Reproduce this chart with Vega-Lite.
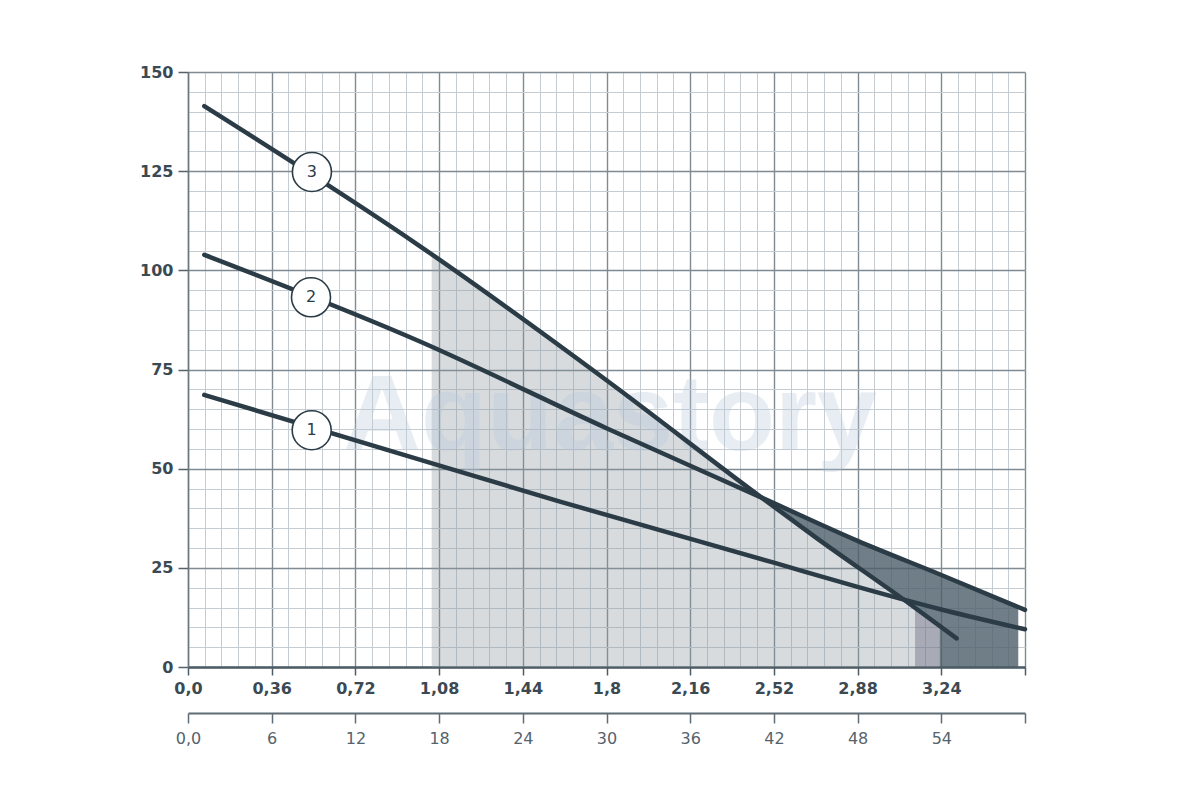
{
  "$schema": "https://vega.github.io/schema/vega-lite/v6.json",
  "width": 837,
  "height": 595,
  "autosize": {"type": "none"},
  "padding": {"left": 188, "top": 72, "right": 175, "bottom": 133},
  "background": "white",
  "config": {"view": {"stroke": null}, "font": "DejaVu Sans"},
  "datasets": {
    "frame": [{"q": 0, "h": 0}, {"q": 3.6, "h": 150}],
    "lpm": [{"lpm": 0}, {"lpm": 60}],
    "lines": [
      {"pump": "3", "q": 0.07, "h": 141.4},
      {"pump": "3", "q": 1.0, "h": 106.0},
      {"pump": "3", "q": 1.8, "h": 72.3},
      {"pump": "3", "q": 2.46, "h": 43.0},
      {"pump": "3", "q": 2.704, "h": 32.5},
      {"pump": "3", "q": 3.09, "h": 16.5},
      {"pump": "3", "q": 3.306, "h": 7.2},
      {"pump": "2", "q": 0.07, "h": 103.9},
      {"pump": "2", "q": 1.0, "h": 82.0},
      {"pump": "2", "q": 1.8, "h": 60.2},
      {"pump": "2", "q": 2.46, "h": 42.9},
      {"pump": "2", "q": 2.88, "h": 31.8},
      {"pump": "2", "q": 3.24, "h": 23.2},
      {"pump": "2", "q": 3.6, "h": 14.4},
      {"pump": "1", "q": 0.07, "h": 68.6},
      {"pump": "1", "q": 1.0, "h": 52.2},
      {"pump": "1", "q": 1.6, "h": 41.7},
      {"pump": "1", "q": 2.52, "h": 26.3},
      {"pump": "1", "q": 2.88, "h": 20.2},
      {"pump": "1", "q": 3.24, "h": 14.5},
      {"pump": "1", "q": 3.6, "h": 9.5}
    ],
    "lightArea": [
      {"q": 1.048, "h": 104.0, "h2": 0},
      {"q": 1.8, "h": 72.3, "h2": 0},
      {"q": 2.46, "h": 43.0, "h2": 0},
      {"q": 2.704, "h": 32.5, "h2": 0},
      {"q": 3.09, "h": 16.5, "h2": 0},
      {"q": 3.127, "h": 14.9, "h2": 0}
    ],
    "mediumArea": [
      {"q": 3.127, "h": 14.9, "h2": 0},
      {"q": 3.232, "h": 10.4, "h2": 0}
    ],
    "darkArea": [
      {"q": 2.46, "h": 42.9, "h2": 42.9},
      {"q": 2.704, "h": 36.5, "h2": 32.5},
      {"q": 2.88, "h": 31.8, "h2": 25.2},
      {"q": 3.09, "h": 26.8, "h2": 16.5},
      {"q": 3.127, "h": 25.9, "h2": 14.9},
      {"q": 3.232, "h": 23.4, "h2": 10.4},
      {"q": 3.2321, "h": 23.4, "h2": 0},
      {"q": 3.571, "h": 15.2, "h2": 0}
    ],
    "badges": [
      {"label": "3", "q": 0.533, "h": 124.8},
      {"label": "2", "q": 0.529, "h": 93.2},
      {"label": "1", "q": 0.532, "h": 59.7}
    ],
    "watermark": [{"text": "Aquastory", "q": 1.815, "h": 54.7}]
  },
  "layer": [
    {
      "data": {"name": "frame"},
      "mark": {"type": "point", "opacity": 0},
      "encoding": {
        "x": {
          "field": "q", "type": "quantitative",
          "scale": {"domain": [0, 3.6], "nice": false, "zero": false},
          "axis": {
            "orient": "bottom", "title": null, "labels": false, "ticks": false, "domain": false,
            "grid": true, "gridColor": "#c5ccd2", "gridWidth": 1,
            "values": [0, 0.072, 0.144, 0.216, 0.288, 0.36, 0.432, 0.504, 0.576, 0.648, 0.72, 0.792, 0.864, 0.936, 1.008, 1.08, 1.152, 1.224, 1.296, 1.368, 1.44, 1.512, 1.584, 1.656, 1.728, 1.8, 1.872, 1.944, 2.016, 2.088, 2.16, 2.232, 2.304, 2.376, 2.448, 2.52, 2.592, 2.664, 2.736, 2.808, 2.88, 2.952, 3.024, 3.096, 3.168, 3.24, 3.312, 3.384, 3.456, 3.528, 3.6]
          }
        },
        "y": {
          "field": "h", "type": "quantitative",
          "scale": {"domain": [0, 150], "nice": false, "zero": false},
          "axis": {
            "orient": "left", "title": null, "labels": false, "ticks": false, "domain": false,
            "grid": true, "gridColor": "#c5ccd2", "gridWidth": 1,
            "values": [0, 5, 10, 15, 20, 25, 30, 35, 40, 45, 50, 55, 60, 65, 70, 75, 80, 85, 90, 95, 100, 105, 110, 115, 120, 125, 130, 135, 140, 145, 150]
          }
        }
      }
    },
    {
      "encoding": {
        "x": {
          "field": "q", "type": "quantitative",
          "scale": {"domain": [0, 3.6], "nice": false, "zero": false},
          "axis": {
            "orient": "bottom", "title": null,
            "values": [0, 0.36, 0.72, 1.08, 1.44, 1.8, 2.16, 2.52, 2.88, 3.24, 3.6],
            "labelExpr": "datum.value == 0 ? '0,0' : (datum.value > 3.5 ? '' : replace(toString(round(datum.value * 100) / 100), '.', ','))",
            "grid": true, "gridColor": "#7f8a92", "gridWidth": 1.4,
            "domain": true, "domainColor": "#4e5c66", "domainWidth": 2.5,
            "ticks": true, "tickSize": 8, "tickColor": "#4e5c66", "tickWidth": 1.5,
            "labelFont": "DejaVu Sans", "labelFontWeight": "bold", "labelFontSize": 16,
            "labelColor": "#3b4953", "labelPadding": 5, "labelFlush": false, "labelOverlap": false
          }
        },
        "y": {
          "field": "h", "type": "quantitative",
          "scale": {"domain": [0, 150], "nice": false, "zero": false},
          "axis": {
            "orient": "left", "title": null,
            "values": [0, 25, 50, 75, 100, 125, 150],
            "grid": true, "gridColor": "#7f8a92", "gridWidth": 1.4,
            "domain": true, "domainColor": "#6b777f", "domainWidth": 1.5,
            "ticks": true, "tickSize": 10, "tickColor": "#55626b", "tickWidth": 1.5,
            "labelFont": "DejaVu Sans", "labelFontWeight": "bold", "labelFontSize": 16,
            "labelColor": "#3b4953", "labelPadding": 5, "labelFlush": false, "labelOverlap": false
          }
        }
      },
      "layer": [
        {
          "data": {"name": "lightArea"},
          "mark": {"type": "area", "color": "#8c98a1", "fillOpacity": 0.35},
          "encoding": {"y2": {"field": "h2"}}
        },
        {
          "data": {"name": "mediumArea"},
          "mark": {"type": "area", "color": "#6e7385", "fillOpacity": 0.6},
          "encoding": {"y2": {"field": "h2"}}
        },
        {
          "data": {"name": "darkArea"},
          "mark": {"type": "area", "color": "#4c5e69", "fillOpacity": 0.8},
          "encoding": {"y2": {"field": "h2"}}
        },
        {
          "data": {"name": "watermark"},
          "mark": {"type": "text", "font": "Liberation Sans", "fontWeight": "bold", "fontSize": 108, "color": "#b8c9db", "opacity": 0.33, "align": "center", "baseline": "alphabetic"},
          "encoding": {"text": {"field": "text"}}
        },
        {
          "data": {"name": "lines"},
          "mark": {"type": "line", "color": "#2b3c47", "strokeWidth": 4.5, "strokeCap": "round", "interpolate": "monotone"},
          "encoding": {"detail": {"field": "pump"}}
        },
        {
          "data": {"name": "badges"},
          "mark": {"type": "point", "shape": "circle", "size": 1521, "filled": true, "fill": "white", "stroke": "#2b3c47", "strokeWidth": 1.6, "opacity": 1}
        },
        {
          "data": {"name": "badges"},
          "mark": {"type": "text", "font": "DejaVu Sans", "fontSize": 16, "color": "#2b3c47", "align": "center", "baseline": "middle"},
          "encoding": {"text": {"field": "label"}}
        }
      ]
    },
    {
      "data": {"name": "lpm"},
      "mark": {"type": "point", "opacity": 0},
      "encoding": {
        "x": {
          "field": "lpm", "type": "quantitative",
          "scale": {"domain": [0, 60], "nice": false, "zero": false},
          "axis": {
            "orient": "bottom", "title": null, "offset": 46,
            "values": [0, 6, 12, 18, 24, 30, 36, 42, 48, 54, 60],
            "labelExpr": "datum.value == 0 ? '0,0' : (datum.value > 59 ? '' : toString(datum.value))",
            "grid": false,
            "domain": true, "domainColor": "#5f6c75", "domainWidth": 2,
            "ticks": true, "tickSize": 10, "tickColor": "#5f6c75", "tickWidth": 1.5,
            "labelFont": "DejaVu Sans", "labelFontSize": 16, "labelColor": "#56636c",
            "labelPadding": 7, "labelFlush": false, "labelOverlap": false
          }
        }
      }
    }
  ],
  "resolve": {"scale": {"x": "independent", "y": "independent"}, "axis": {"x": "independent", "y": "independent"}}
}
